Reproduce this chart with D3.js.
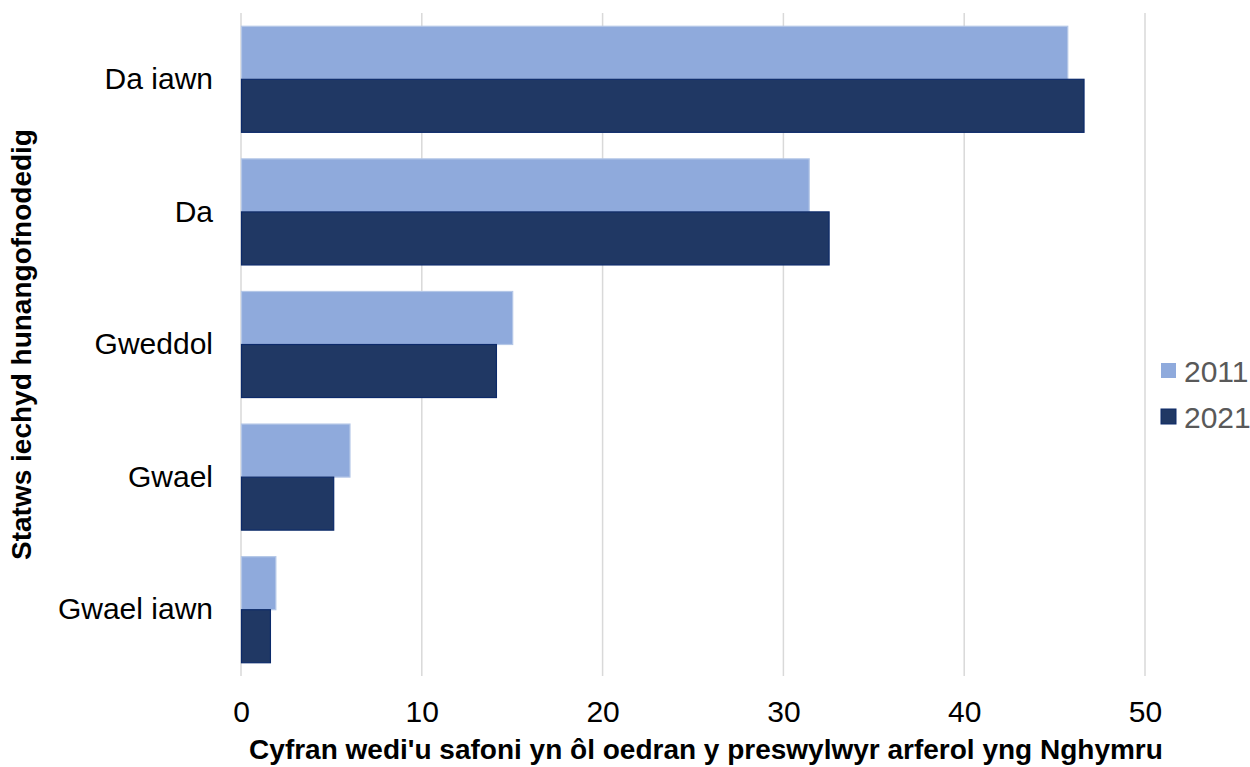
<!DOCTYPE html>
<html>
<head>
<meta charset="utf-8">
<script src="https://cdn.jsdelivr.net/npm/d3@7"></script>
<style>
  body { margin: 0; background: #fff; }
  svg { font-family: "Liberation Sans", Arial, sans-serif; }
</style>
</head>
<body>
<svg id="chart" width="1250" height="767"></svg>
<script>
//

const categories = ['Da iawn', 'Da', 'Gweddol', 'Gwael', 'Gwael iawn']
const years = ['2011', '2021']
const values2011 = [45.7, 31.4, 15.0, 6.0, 1.9]
const values2021 = [46.6, 32.5, 14.1, 5.1, 1.6]
const xTicks = [0, 10, 20, 30, 40, 50]

const colors = { '2011': '#8faadc', '2021': '#203864' }
const strokes = { '2011': '#b4c7e7', '2021': '#0c2a6a' }

//

const margin = { top: 13, left: 241, right: 105, bottom: 91 }
const width = 1250 - margin.left - margin.right
const height = 767 - margin.top - margin.bottom

const svg = d3.select('#chart')
const g = svg.append('g').attr('transform', `translate(${margin.left},${margin.top})`)

const x = d3.scaleLinear().domain([0, 50]).range([0, 904])
const y = d3.scaleBand().domain(categories).range([0, height]).paddingInner(0.2).paddingOuter(0.1)
const ySub = d3.scaleBand().domain(years).range([0, y.bandwidth()])

// gridlines
g.append('g')
  .selectAll('line')
  .data(xTicks)
  .join('line')
  .attr('x1', d => x(d)).attr('x2', d => x(d))
  .attr('y1', 0).attr('y2', height)
  .attr('stroke', '#d9d9d9')
  .attr('stroke-width', 1.5)

// bars
const rows = categories.map((c, i) => ({ cat: c, v: { '2011': values2011[i], '2021': values2021[i] } }))

g.append('g')
  .selectAll('g')
  .data(rows)
  .join('g')
  .attr('transform', d => `translate(0,${y(d.cat)})`)
  .selectAll('rect')
  .data(d => years.map(yr => ({ yr, v: d.v[yr] })))
  .join('rect')
  .attr('x', x(0) + 0.5)
  .attr('y', d => ySub(d.yr))
  .attr('width', d => x(d.v) - x(0))
  .attr('height', ySub.bandwidth())
  .attr('fill', d => colors[d.yr])
  .attr('stroke', d => strokes[d.yr])
  .attr('stroke-width', 1.2)

// x axis labels
const xAxis = d3.axisBottom(x).tickValues(xTicks).tickSize(0).tickPadding(25)
const xg = g.append('g').attr('transform', `translate(0,${height})`).call(xAxis)
xg.select('.domain').remove()
xg.selectAll('text').attr('font-size', 30).attr('fill', '#000').attr('font-family', null)

// y axis labels
const yAxis = d3.axisLeft(y).tickSize(0).tickPadding(28)
const yg = g.append('g').call(yAxis)
yg.select('.domain').remove()
yg.selectAll('text').attr('font-size', 30).attr('fill', '#000').attr('font-family', null)

// titles
svg.append('text')
  .attr('x', 706).attr('y', 759)
  .attr('text-anchor', 'middle')
  .attr('font-size', 28).attr('font-weight', 'bold')
  .text("Cyfran wedi'u safoni yn ôl oedran y preswylwyr arferol yng Nghymru")

svg.append('text')
  .attr('transform', `translate(31,${margin.top + height / 2}) rotate(-90)`)
  .attr('text-anchor', 'middle')
  .attr('font-size', 28).attr('font-weight', 'bold')
  .text('Statws iechyd hunangofnodedig')

// legend
const legend = svg.append('g').attr('transform', 'translate(1161,363)')
const li = legend.selectAll('g').data(years).join('g')
  .attr('transform', (d, i) => `translate(0,${i * 46})`)
li.append('rect')
  .attr('width', 15).attr('height', 15)
  .attr('fill', d => colors[d])
  .attr('stroke', d => d === '2021' ? strokes[d] : 'none')
li.append('text')
  .attr('x', 23).attr('y', 19)
  .attr('font-size', 30).attr('fill', '#595959')
  .text(d => d)
</script>
</body>
</html>
